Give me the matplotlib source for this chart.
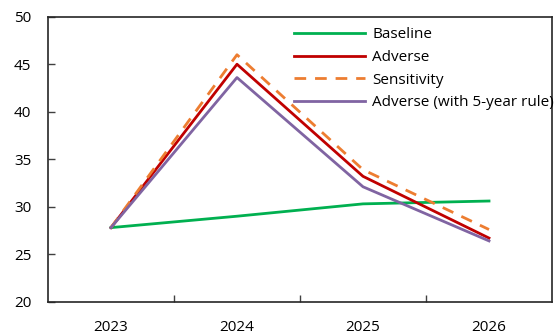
import matplotlib
matplotlib.use("Agg")
import matplotlib.pyplot as plt
from matplotlib.ticker import FixedLocator, NullFormatter, FixedFormatter

plt.rcParams['font.family'] = ['Open Sans', 'DejaVu Sans']

years = ["2023", "2024", "2025", "2026"]
baseline = [27.8, 29.0, 30.3, 30.6]
adverse = [27.8, 45.0, 33.2, 26.7]
sensitivity = [27.8, 46.0, 33.9, 27.6]
adverse_5yr = [27.8, 43.6, 32.1, 26.4]

fig = plt.figure(figsize=(5.54, 3.35), dpi=100)
ax = fig.add_axes([0.0866, 0.0994, 0.9098, 0.8506])

x = list(range(len(years)))
lw = 2.0
ax.plot(x, baseline, color="#00B050", lw=lw, label="Baseline")
ax.plot(x, adverse, color="#C00000", lw=lw, label="Adverse")
ax.plot(x, sensitivity, color="#ED7D31", lw=lw, ls=(0, (4.2, 3.2)), label="Sensitivity")
ax.plot(x, adverse_5yr, color="#8064A2", lw=lw, label="Adverse (with 5-year rule)")

ax.set_xlim(-0.5, len(years) - 0.5)
ax.set_ylim(20, 50)
ax.set_yticks(range(20, 51, 5))

# category axis: tick marks between categories, labels at category centres
ax.xaxis.set_major_locator(FixedLocator([i + 0.5 for i in range(len(years) - 1)]))
ax.xaxis.set_major_formatter(NullFormatter())
ax.xaxis.set_minor_locator(FixedLocator(x))
ax.xaxis.set_minor_formatter(FixedFormatter(years))
ax.tick_params(axis="x", which="major", direction="in", length=5, width=1, color="#404040")
ax.tick_params(axis="x", which="minor", length=0, pad=13, labelsize=11)
ax.tick_params(axis="y", direction="in", length=5, width=1, color="#404040", pad=12, labelsize=11)

for s in ax.spines.values():
    s.set_color("#262626")
    s.set_linewidth(1.2)

ax.legend(loc="upper right", bbox_to_anchor=(1.025, 1.0), frameon=False, fontsize=11,
          handlelength=4.6, handletextpad=0.5, labelspacing=0.5, borderaxespad=0.3)

fig.savefig("out.png", dpi=100)
